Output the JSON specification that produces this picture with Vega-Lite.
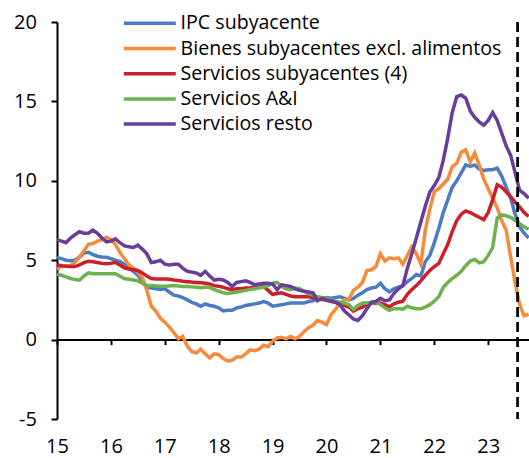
{
  "$schema": "https://vega.github.io/schema/vega-lite/v6.json",
  "width": 472,
  "height": 397,
  "autosize": {"type": "none"},
  "padding": {"left": 57, "top": 22, "right": 0, "bottom": 39},
  "background": "white",
  "config": {"view": {"stroke": null}, "font": "Open Sans"},
  "data": {"values": [
    {"t":15,"a":5.15,"b":4.4,"c":4.72,"d":4.12,"e":6.3},
    {"t":15.083,"a":5.1,"b":4.65,"c":4.65,"d":4.05,"e":6.2},
    {"t":15.167,"a":5.0,"b":4.65,"c":4.62,"d":3.95,"e":6.1},
    {"t":15.25,"a":4.97,"b":4.65,"c":4.6,"d":3.85,"e":6.4},
    {"t":15.333,"a":5.0,"b":4.85,"c":4.6,"d":3.78,"e":6.6},
    {"t":15.417,"a":5.2,"b":5.2,"c":4.7,"d":3.74,"e":6.8},
    {"t":15.5,"a":5.45,"b":5.6,"c":4.85,"d":4.0,"e":6.7},
    {"t":15.583,"a":5.5,"b":6.0,"c":4.93,"d":4.2,"e":6.7},
    {"t":15.667,"a":5.35,"b":6.05,"c":4.9,"d":4.15,"e":6.9},
    {"t":15.75,"a":5.25,"b":6.2,"c":4.85,"d":4.15,"e":6.7},
    {"t":15.833,"a":5.2,"b":6.3,"c":4.8,"d":4.15,"e":6.4},
    {"t":15.917,"a":5.18,"b":6.45,"c":4.78,"d":4.15,"e":6.15},
    {"t":16,"a":5.1,"b":6.3,"c":4.8,"d":4.15,"e":6.2},
    {"t":16.083,"a":5.0,"b":6.0,"c":4.87,"d":4.15,"e":6.35},
    {"t":16.167,"a":4.93,"b":5.5,"c":4.7,"d":4.0,"e":6.1},
    {"t":16.25,"a":4.75,"b":5.1,"c":4.52,"d":3.85,"e":5.9},
    {"t":16.333,"a":4.55,"b":4.7,"c":4.45,"d":3.8,"e":5.85},
    {"t":16.417,"a":4.3,"b":4.5,"c":4.4,"d":3.75,"e":5.8},
    {"t":16.5,"a":4.05,"b":4.25,"c":4.35,"d":3.7,"e":5.95},
    {"t":16.583,"a":3.7,"b":3.9,"c":4.2,"d":3.55,"e":5.7},
    {"t":16.667,"a":3.3,"b":3.1,"c":4.0,"d":3.42,"e":5.4},
    {"t":16.75,"a":3.25,"b":2.1,"c":3.85,"d":3.4,"e":4.85},
    {"t":16.833,"a":3.2,"b":1.8,"c":3.82,"d":3.38,"e":4.9},
    {"t":16.917,"a":3.15,"b":1.35,"c":3.82,"d":3.36,"e":5.0},
    {"t":17,"a":3.2,"b":1.1,"c":3.82,"d":3.36,"e":4.75},
    {"t":17.083,"a":3.0,"b":0.8,"c":3.8,"d":3.38,"e":4.7},
    {"t":17.167,"a":2.8,"b":0.45,"c":3.75,"d":3.4,"e":4.75},
    {"t":17.25,"a":2.75,"b":0.05,"c":3.72,"d":3.38,"e":4.75},
    {"t":17.333,"a":2.65,"b":0.2,"c":3.68,"d":3.35,"e":4.5},
    {"t":17.417,"a":2.5,"b":-0.4,"c":3.65,"d":3.34,"e":4.3},
    {"t":17.5,"a":2.35,"b":-0.75,"c":3.62,"d":3.32,"e":4.25},
    {"t":17.583,"a":2.25,"b":-0.85,"c":3.6,"d":3.3,"e":4.2},
    {"t":17.667,"a":2.1,"b":-0.6,"c":3.58,"d":3.26,"e":4.05},
    {"t":17.75,"a":2.25,"b":-0.9,"c":3.55,"d":3.3,"e":4.3},
    {"t":17.833,"a":2.15,"b":-1.15,"c":3.5,"d":3.3,"e":4.0},
    {"t":17.917,"a":2.1,"b":-0.9,"c":3.4,"d":3.15,"e":3.75},
    {"t":18,"a":2.0,"b":-0.95,"c":3.36,"d":3.05,"e":3.8},
    {"t":18.083,"a":1.8,"b":-1.2,"c":3.3,"d":2.95,"e":3.75},
    {"t":18.167,"a":1.85,"b":-1.35,"c":3.2,"d":2.9,"e":3.6},
    {"t":18.25,"a":1.85,"b":-1.3,"c":3.15,"d":2.95,"e":3.35},
    {"t":18.333,"a":2.0,"b":-1.1,"c":3.2,"d":3.0,"e":3.6},
    {"t":18.417,"a":2.05,"b":-1.1,"c":3.2,"d":3.05,"e":3.65},
    {"t":18.5,"a":2.15,"b":-0.9,"c":3.25,"d":3.1,"e":3.7},
    {"t":18.583,"a":2.2,"b":-0.65,"c":3.25,"d":3.15,"e":3.6},
    {"t":18.667,"a":2.25,"b":-0.7,"c":3.3,"d":3.2,"e":3.45},
    {"t":18.75,"a":2.3,"b":-0.6,"c":3.3,"d":3.25,"e":3.5},
    {"t":18.833,"a":2.4,"b":-0.35,"c":3.35,"d":3.3,"e":3.55},
    {"t":18.917,"a":2.3,"b":-0.45,"c":3.1,"d":3.4,"e":3.55},
    {"t":19,"a":2.1,"b":-0.1,"c":2.85,"d":3.55,"e":3.5},
    {"t":19.083,"a":2.15,"b":0.1,"c":2.9,"d":3.6,"e":3.15},
    {"t":19.167,"a":2.2,"b":0.15,"c":2.95,"d":3.35,"e":3.45},
    {"t":19.25,"a":2.25,"b":0.05,"c":2.85,"d":3.2,"e":3.4},
    {"t":19.333,"a":2.3,"b":0.2,"c":2.75,"d":3.15,"e":3.35},
    {"t":19.417,"a":2.3,"b":0.05,"c":2.7,"d":3.25,"e":3.2},
    {"t":19.5,"a":2.3,"b":0.2,"c":2.7,"d":3.2,"e":3.1},
    {"t":19.583,"a":2.3,"b":0.5,"c":2.72,"d":3.05,"e":3.05},
    {"t":19.667,"a":2.4,"b":0.75,"c":2.7,"d":2.9,"e":3.0},
    {"t":19.75,"a":2.45,"b":0.9,"c":2.65,"d":2.8,"e":2.95},
    {"t":19.833,"a":2.55,"b":1.2,"c":2.56,"d":2.7,"e":2.45},
    {"t":19.917,"a":2.6,"b":1.1,"c":2.52,"d":2.65,"e":2.6},
    {"t":20,"a":2.65,"b":0.95,"c":2.48,"d":2.6,"e":2.5},
    {"t":20.083,"a":2.6,"b":1.55,"c":2.4,"d":2.5,"e":2.45},
    {"t":20.167,"a":2.65,"b":1.9,"c":2.35,"d":2.42,"e":2.35},
    {"t":20.25,"a":2.7,"b":2.3,"c":2.25,"d":2.35,"e":2.2},
    {"t":20.333,"a":2.6,"b":2.5,"c":2.15,"d":2.3,"e":1.8},
    {"t":20.417,"a":2.5,"b":2.55,"c":2.05,"d":2.2,"e":1.55},
    {"t":20.5,"a":2.6,"b":3.1,"c":1.8,"d":1.9,"e":1.3},
    {"t":20.583,"a":2.8,"b":3.3,"c":1.95,"d":2.15,"e":1.2},
    {"t":20.667,"a":2.95,"b":3.6,"c":2.05,"d":2.3,"e":1.5},
    {"t":20.75,"a":3.15,"b":4.35,"c":2.2,"d":2.3,"e":1.95},
    {"t":20.833,"a":3.25,"b":4.4,"c":2.3,"d":2.35,"e":2.35},
    {"t":20.917,"a":3.3,"b":4.6,"c":2.3,"d":2.4,"e":2.4},
    {"t":21,"a":3.55,"b":5.4,"c":2.3,"d":2.2,"e":2.6},
    {"t":21.083,"a":3.2,"b":4.95,"c":2.2,"d":2.0,"e":2.45},
    {"t":21.167,"a":3.0,"b":5.15,"c":2.06,"d":1.85,"e":2.5},
    {"t":21.25,"a":3.2,"b":5.1,"c":2.25,"d":1.95,"e":2.9},
    {"t":21.333,"a":3.3,"b":5.15,"c":2.35,"d":1.95,"e":3.2},
    {"t":21.417,"a":3.4,"b":4.75,"c":2.42,"d":1.92,"e":3.4},
    {"t":21.5,"a":3.65,"b":5.3,"c":2.85,"d":2.1,"e":4.5},
    {"t":21.583,"a":3.85,"b":5.85,"c":3.15,"d":2.0,"e":5.4},
    {"t":21.667,"a":4.1,"b":5.4,"c":3.4,"d":1.95,"e":6.4},
    {"t":21.75,"a":4.0,"b":4.75,"c":3.7,"d":1.95,"e":7.4},
    {"t":21.833,"a":4.9,"b":6.9,"c":4.05,"d":2.05,"e":8.4},
    {"t":21.917,"a":5.3,"b":8.2,"c":4.35,"d":2.2,"e":9.3},
    {"t":22,"a":6.1,"b":9.3,"c":4.6,"d":2.42,"e":9.7},
    {"t":22.083,"a":7.0,"b":9.5,"c":4.8,"d":2.7,"e":10.2},
    {"t":22.167,"a":8.0,"b":9.8,"c":5.4,"d":3.3,"e":11.3},
    {"t":22.25,"a":8.8,"b":10.1,"c":6.0,"d":3.6,"e":12.7},
    {"t":22.333,"a":9.6,"b":10.9,"c":6.8,"d":3.85,"e":14.3},
    {"t":22.417,"a":10.0,"b":11.1,"c":7.5,"d":4.05,"e":15.3},
    {"t":22.5,"a":10.5,"b":11.8,"c":7.9,"d":4.3,"e":15.4},
    {"t":22.583,"a":11.0,"b":11.95,"c":8.1,"d":4.65,"e":15.2},
    {"t":22.667,"a":10.9,"b":11.2,"c":8.0,"d":4.95,"e":14.4},
    {"t":22.75,"a":11.0,"b":11.75,"c":7.85,"d":5.05,"e":14.0},
    {"t":22.833,"a":10.75,"b":11.0,"c":7.7,"d":4.83,"e":13.7},
    {"t":22.917,"a":10.65,"b":10.1,"c":7.55,"d":4.9,"e":13.5},
    {"t":23,"a":10.7,"b":9.5,"c":8.0,"d":5.3,"e":13.8},
    {"t":23.083,"a":10.7,"b":8.9,"c":8.8,"d":5.8,"e":14.3},
    {"t":23.167,"a":10.8,"b":8.3,"c":9.75,"d":7.65,"e":13.8},
    {"t":23.25,"a":10.3,"b":7.5,"c":9.6,"d":7.85,"e":13.0},
    {"t":23.333,"a":9.6,"b":6.9,"c":9.3,"d":7.8,"e":12.2},
    {"t":23.417,"a":8.9,"b":5.2,"c":9.0,"d":7.7,"e":11.6},
    {"t":23.5,"a":7.9,"b":3.6,"c":8.65,"d":7.5,"e":10.5},
    {"t":23.583,"a":7.1,"b":2.2,"c":8.35,"d":7.3,"e":9.4},
    {"t":23.667,"a":6.7,"b":1.5,"c":8.0,"d":7.1,"e":9.2},
    {"t":23.75,"a":6.4,"b":1.6,"c":7.75,"d":6.95,"e":8.9}
  ]},
  "layer": [
    {
      "transform": [{"fold": ["a", "b", "c", "d", "e"], "as": ["serie", "valor"]}],
      "mark": {"type": "line", "strokeWidth": 3.5, "clip": true},
      "encoding": {
        "x": {
          "field": "t", "type": "quantitative",
          "scale": {"domain": [15, 23.757], "nice": false, "zero": false},
          "axis": {
            "title": null, "grid": false, "values": [15, 16, 17, 18, 19, 20, 21, 22, 23],
            "format": "d", "offset": -79.4, "domainColor": "black", "domainWidth": 2,
            "tickColor": "black", "tickWidth": 2, "tickSize": 5, "labelPadding": 92,
            "labelFontSize": 20, "labelFont": "Open Sans", "labelColor": "black", "labelAngle": 0,
            "labelFlush": false, "labelOverlap": false
          }
        },
        "y": {
          "field": "valor", "type": "quantitative",
          "scale": {"domain": [-5, 20], "nice": false},
          "axis": {
            "title": null, "grid": false, "values": [-5, 0, 5, 10, 15, 20],
            "domainColor": "black", "domainWidth": 2, "tickColor": "black", "tickWidth": 2,
            "tickSize": 6, "labelPadding": 14.6, "labelFontSize": 20, "labelFont": "Open Sans",
            "labelColor": "black", "labelFlush": false,
            "labelExpr": "datum.value < 0 ? '-' + abs(datum.value) : '' + datum.value"
          }
        },
        "color": {
          "field": "serie", "type": "nominal",
          "scale": {"domain": ["a", "b", "c", "d", "e"], "range": ["#4A7CC6", "#F68B3C", "#CC1F29", "#6DB24F", "#6A3D9A"]},
          "legend": {
            "orient": "none", "legendX": 62, "legendY": -8.5, "title": null, "padding": 0,
            "symbolType": "M-1,0H9.4", "symbolSize": 100, "symbolStrokeWidth": 3.5,
            "labelFontSize": 19.6, "labelFont": "Open Sans", "labelColor": "black",
            "labelOffset": 42, "rowPadding": 4.2, "labelLimit": 0,
            "labelExpr": "datum.label == 'a' ? 'IPC subyacente' : datum.label == 'b' ? 'Bienes subyacentes excl. alimentos' : datum.label == 'c' ? 'Servicios subyacentes (4)' : datum.label == 'd' ? 'Servicios A&I' : 'Servicios resto'"
          }
        }
      }
    },
    {
      "data": {"values": [{"corte": 23.545}]},
      "mark": {"type": "rule", "color": "black", "strokeWidth": 2.7, "strokeDash": [10, 5]},
      "encoding": {"x": {"field": "corte", "type": "quantitative"}}
    }
  ]
}
